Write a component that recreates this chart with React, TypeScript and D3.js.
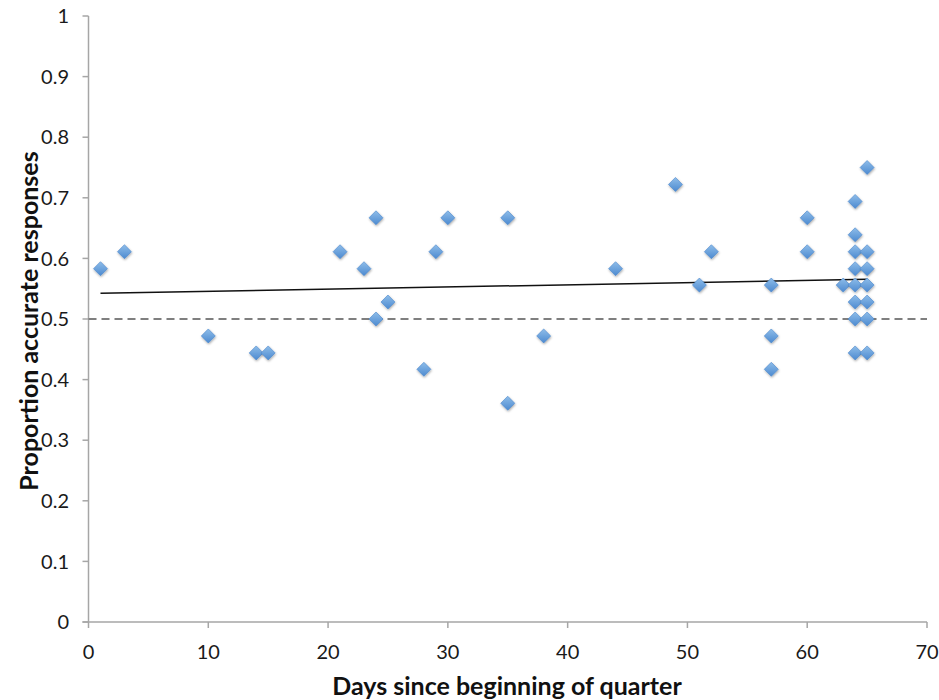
import React, { useRef, useEffect } from 'react';
import * as d3 from 'd3';

// days since beginning of quarter / proportion accurate responses
const days = [
  1, 3, 10, 14, 15, 21, 23, 24, 24, 25, 28, 29, 30, 35, 35, 38, 44, 49, 51, 52,
  57, 57, 57, 60, 60, 63,
  64, 64, 64, 64, 64, 64, 64, 64,
  65, 65, 65, 65, 65, 65, 65,
];
const proportions = [
  0.583, 0.611, 0.472, 0.444, 0.444, 0.611, 0.583, 0.667, 0.5, 0.528, 0.417, 0.611, 0.667, 0.667, 0.361, 0.472, 0.583, 0.722, 0.556, 0.611,
  0.556, 0.472, 0.417, 0.667, 0.611, 0.556,
  0.694, 0.639, 0.611, 0.583, 0.556, 0.528, 0.5, 0.444,
  0.75, 0.611, 0.583, 0.556, 0.528, 0.5, 0.444,
];
const xTicks = [0, 10, 20, 30, 40, 50, 60, 70];
const yTicks = [0, 0.1, 0.2, 0.3, 0.4, 0.5, 0.6, 0.7, 0.8, 0.9, 1];
const chanceLevel = 0.5;
// linear trendline as drawn in the original (intercept, slope)
const trendIntercept = 0.542;
const trendSlope = 0.00036;

const width = 939;
const height = 700;

const App: React.FC = () => {
  const svgRef = useRef<SVGSVGElement>(null);

  useEffect(() => {
    document.body.style.margin = '0';
    if (!svgRef.current) return;
    const svg = d3.select(svgRef.current);
    svg.selectAll('*').remove();

    const x = d3.scaleLinear().domain([0, 70]).range([88.5, 927]);
    const y = d3.scaleLinear().domain([0, 1]).range([622, 16]);

    const font = 'Lato, "Open Sans", sans-serif';
    const axisColor = '#a6a6a6';

    // marker look
    const defs = svg.append('defs');
    const grad = defs.append('linearGradient')
      .attr('id', 'marker-grad')
      .attr('x1', 0).attr('y1', 0).attr('x2', 0).attr('y2', 1);
    grad.append('stop').attr('offset', '0%').attr('stop-color', '#8ebde9');
    grad.append('stop').attr('offset', '100%').attr('stop-color', '#4d8ad0');
    const shadow = defs.append('filter').attr('id', 'marker-shadow')
      .attr('x', '-50%').attr('y', '-50%').attr('width', '200%').attr('height', '200%');
    shadow.append('feDropShadow')
      .attr('dx', 0.5).attr('dy', 1.2).attr('stdDeviation', 0.9)
      .attr('flood-color', '#000').attr('flood-opacity', 0.35);

    // axes
    const yAxis = svg.append('g');
    yAxis.append('line')
      .attr('x1', x(0)).attr('x2', x(0)).attr('y1', y(1)).attr('y2', y(0))
      .attr('stroke', axisColor).attr('stroke-width', 1.5);
    yAxis.selectAll('.yt').data(yTicks).enter().append('line')
      .attr('x1', x(0) - 6).attr('x2', x(0))
      .attr('y1', d => y(d)).attr('y2', d => y(d))
      .attr('stroke', axisColor).attr('stroke-width', 1.5);
    yAxis.selectAll('.yl').data(yTicks).enter().append('text')
      .attr('x', 69).attr('y', d => y(d)).attr('dy', '0.36em')
      .attr('text-anchor', 'end')
      .attr('font-family', font).attr('font-size', 20).attr('fill', '#1a1a1a')
      .text(d => String(d));

    const xAxis = svg.append('g');
    xAxis.append('line')
      .attr('x1', x(0) - 6).attr('x2', x(70)).attr('y1', y(0)).attr('y2', y(0))
      .attr('stroke', axisColor).attr('stroke-width', 1.5);
    xAxis.selectAll('.xt').data(xTicks).enter().append('line')
      .attr('x1', d => x(d)).attr('x2', d => x(d))
      .attr('y1', y(0)).attr('y2', y(0) + 6)
      .attr('stroke', axisColor).attr('stroke-width', 1.5);
    xAxis.selectAll('.xl').data(xTicks).enter().append('text')
      .attr('x', d => x(d)).attr('y', 659)
      .attr('text-anchor', 'middle')
      .attr('font-family', font).attr('font-size', 20).attr('fill', '#1a1a1a')
      .text(d => String(d));

    // chance line
    svg.append('line')
      .attr('x1', x(0)).attr('x2', x(70))
      .attr('y1', y(chanceLevel)).attr('y2', y(chanceLevel))
      .attr('stroke', '#7f7f7f').attr('stroke-width', 2)
      .attr('stroke-dasharray', '8,5');

    // linear trend
    const [xMin, xMax] = d3.extent(days) as [number, number];
    svg.append('line')
      .attr('x1', x(xMin)).attr('x2', x(xMax))
      .attr('y1', y(trendIntercept + trendSlope * xMin))
      .attr('y2', y(trendIntercept + trendSlope * xMax))
      .attr('stroke', '#111').attr('stroke-width', 1.5);

    // points
    const symbol = d3.symbol().type(d3.symbolDiamond2).size(125);
    svg.append('g').selectAll('path')
      .data(days.map((d, i) => ({ day: d, p: proportions[i] })))
      .enter().append('path')
      .attr('d', symbol)
      .attr('transform', d => `translate(${x(d.day)},${y(d.p)})`)
      .attr('fill', 'url(#marker-grad)')
      .attr('stroke', '#4a86cc').attr('stroke-width', 0.6)
      .attr('filter', 'url(#marker-shadow)');

    // axis titles
    svg.append('text')
      .attr('x', 507).attr('y', 695)
      .attr('text-anchor', 'middle')
      .attr('font-family', font).attr('font-weight', 'bold').attr('font-size', 25)
      .attr('fill', '#111')
      .text('Days since beginning of quarter');

    svg.append('text')
      .attr('transform', 'translate(38,321) rotate(-90)')
      .attr('text-anchor', 'middle')
      .attr('font-family', font).attr('font-weight', 'bold').attr('font-size', 25)
      .attr('fill', '#111')
      .text('Proportion accurate responses');
  }, []);

  return <svg ref={svgRef} width={width} height={height} style={{ display: 'block', background: '#fff' }} />;
};

export default App;
